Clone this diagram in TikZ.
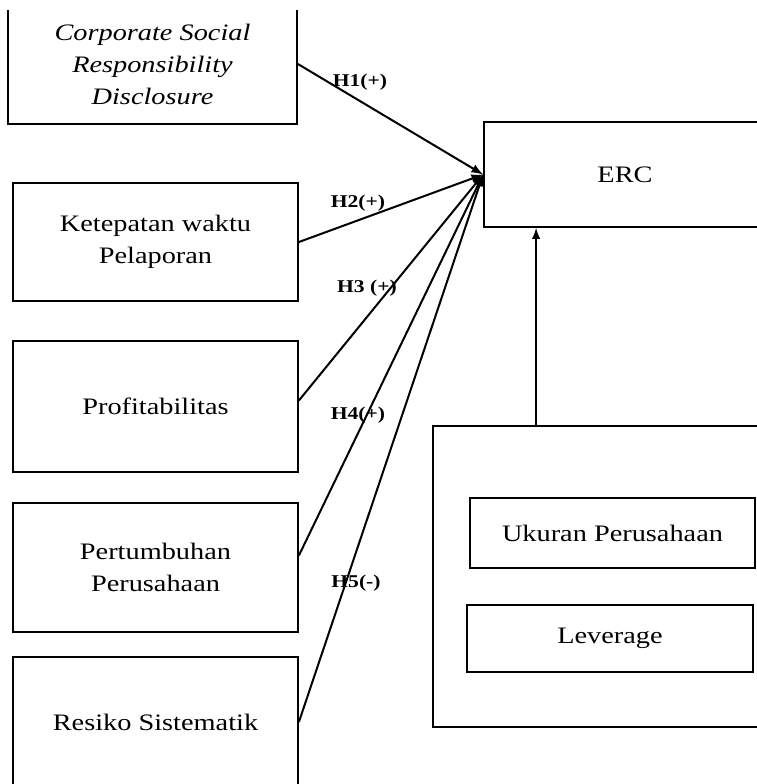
\documentclass[tikz,border=0pt]{standalone}
\usepackage{fontspec}
\setmainfont{Liberation Serif}[FakeStretch=1.2]
\usetikzlibrary{arrows}

\begin{document}
\begin{tikzpicture}[x=0.5pt,y=-0.5pt,>=latex,
	box/.style = {draw,line width=0.9pt,align=center,inner sep=0pt,font=\fontsize{11.8}{16}\selectfont},hyp/.style = {inner sep=1pt,font=\bfseries\fontsize{9}{10}\selectfont}
	]
	\useasboundingbox (0,0) rectangle (757,784);
	\clip (0,10) rectangle (757,784);
	%VARIABEL INDEPENDEN
	\node[box,minimum width=144.5pt,minimum height=60pt,font=\fontsize{11.8}{16}\selectfont\itshape] (csr) at (152.5,64) {Corporate Social\\Responsibility\\Disclosure};
	\node[box,minimum width=142.5pt,minimum height=59pt] (ket) at (155.5,242) {Ketepatan waktu\\Pelaporan};
	\node[box,minimum width=142.5pt,minimum height=65.5pt] (prof) at (155.5,406.5) {Profitabilitas};
	\node[box,minimum width=142.5pt,minimum height=64.5pt] (pert) at (155.5,567.5) {Pertumbuhan\\Perusahaan};
	\node[box,minimum width=142.5pt,minimum height=65pt] (res) at (155.5,722) {Resiko Sistematik};
	%VARIABEL DEPENDEN
	\node[box,minimum width=141pt,minimum height=52.5pt] (erc) at (625,174.5) {ERC};
	%VARIABEL KONTROL
	\node[box,minimum width=168.5pt,minimum height=150.5pt] (mods) at (601.5,576.5) {};
	\node[box,minimum width=142.5pt,minimum height=35pt] (uk) at (612.5,533) {Ukuran Perusahaan};
	\node[box,minimum width=143pt,minimum height=33.5pt] (lev) at (610,638.5) {Leverage};
	%Hipotesis
	\draw[->,line width=1pt] (csr.east) -- (erc.west);
	\draw[->,line width=1pt] (ket.east) -- (erc.west);
	\draw[->,line width=1pt] ([yshift=3pt]prof.east) -- (erc.west);
	\draw[->,line width=1pt] ([yshift=6pt]pert.east) -- (erc.west);
	\draw[->,line width=1pt] (res.east) -- (erc.west);
	\node[hyp] (h1) at (360,82) {H1(+)};
	\node[hyp] (h2) at (358,203) {H2(+)};
	\node[hyp] (h3) at (367,288) {H3 (+)};
	\node[hyp] (h4) at (358,415) {H4(+)};
	\node[hyp] (h5) at (356,583) {H5(-)};
	%Kontrol ke ERC
	\coordinate (kbase) at ([xshift=52pt]mods.north west);
	\draw[->,line width=0.9pt] (kbase) -- (kbase |- erc.south);
\end{tikzpicture}
\end{document}
